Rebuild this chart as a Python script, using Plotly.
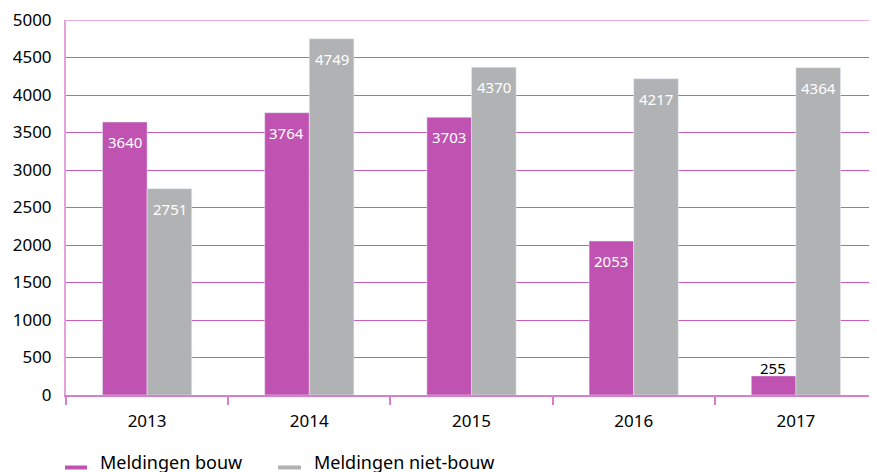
import plotly.graph_objects as go

years = ["2013", "2014", "2015", "2016", "2017"]
bouw = [3640, 3764, 3703, 2053, 255]
niet_bouw = [2751, 4749, 4370, 4217, 4364]
series_names = ["Meldingen bouw", "Meldingen niet-bouw"]
y_ticks = [0, 500, 1000, 1500, 2000, 2500, 3000, 3500, 4000, 4500, 5000]

MAGENTA = "#c052b2"
GREY = "#b1b2b4"
GRID = "#c95bbb"
FONT = "Noto Sans"

fig = go.Figure()
fig.add_trace(go.Bar(x=years, y=bouw, name=series_names[0], marker_color=MAGENTA,
                     showlegend=False, hoverinfo="skip"))
fig.add_trace(go.Bar(x=years, y=niet_bouw, name=series_names[1], marker_color=GREY,
                     showlegend=False, hoverinfo="skip"))

annotations = []
for series, shift in ((bouw, -22.5), (niet_bouw, 22.5)):
    for i, v in enumerate(series):
        if v > 1000:
            annotations.append(dict(x=i, y=v, xref="x", yref="y", text=str(v), showarrow=False,
                                    xshift=shift, yshift=-20, yanchor="middle",
                                    font=dict(family=FONT, size=15, color="white")))
        else:
            annotations.append(dict(x=i, y=v, xref="x", yref="y", text=str(v), showarrow=False,
                                    xshift=shift, yshift=-4, yanchor="bottom",
                                    font=dict(family=FONT, size=15, color="black")))

# custom legend (short thick line + label), in paper coordinates
shapes = [dict(type="line", xref="paper", yref="y", x0=0, x1=1, y0=y_ticks[-1], y1=y_ticks[-1],
               line=dict(color=GRID, width=1), layer="below")]
legend_pos = [(-0.0012, 0.0259, 0.0395), (0.2614, 0.2898, 0.3033)]
for name, color, (mx0, mx1, tx) in zip(series_names, [MAGENTA, GREY], legend_pos):
    shapes.append(dict(type="line", xref="paper", yref="paper", x0=mx0, x1=mx1,
                       y0=-0.1933, y1=-0.1933, line=dict(color=color, width=4)))
    annotations.append(dict(x=tx, y=-0.1787, xref="paper", yref="paper", text=name,
                            showarrow=False, xanchor="left", yanchor="middle",
                            font=dict(family=FONT, size=18, color="black")))

# the page body adds an 8px offset; the figure is shifted so the visible area matches
fig.update_layout(
    width=869, height=472,
    margin=dict(l=58, r=0, t=12, b=85, autoexpand=False),
    paper_bgcolor="white", plot_bgcolor="white",
    barmode="group", bargap=0.45, bargroupgap=0,
    font=dict(family=FONT, size=17, color="black"),
    showlegend=False,
    annotations=annotations,
    shapes=shapes,
    xaxis=dict(type="category", range=[-0.5, 4.5], showgrid=False, showline=True,
               linecolor="#d77fcc", linewidth=1.5, automargin=False,
               ticks="outside", tickson="boundaries", ticklen=8, tickcolor="#d77fcc", tickwidth=1.5,
               ticklabelstandoff=10, tickfont=dict(family=FONT, size=17, color="black"),
               fixedrange=True),
    yaxis=dict(range=[0, 5000], tickvals=y_ticks, showgrid=True, gridcolor=GRID, gridwidth=1,
               zeroline=False, showline=True, linecolor="#e3a3da", linewidth=2, automargin=False,
               ticks="", ticklabelstandoff=9, ticklabeloverflow="allow",
               tickfont=dict(family=FONT, size=17, color="black"),
               fixedrange=True),
)

fig.write_html("out.html")
